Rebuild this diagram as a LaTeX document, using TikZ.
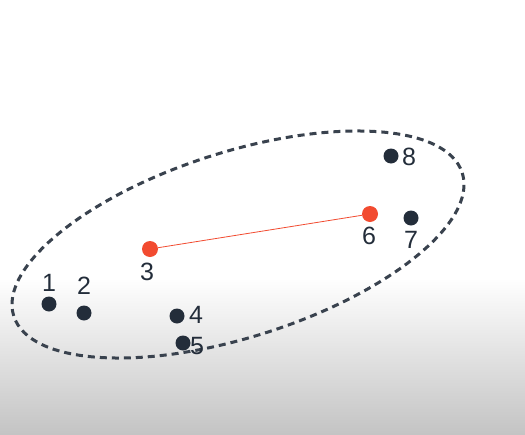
\documentclass[tikz,border=0pt]{standalone}
\usepackage{fontspec}
\setmainfont{Liberation Sans}
\definecolor{dotdark}{HTML}{232D3A}
\definecolor{dotred}{HTML}{F24B30}
\definecolor{bggray}{HTML}{C4C4C4}
\pgfdeclareverticalshading{bgsh}{100bp}{color(0bp)=(bggray); color(25bp)=(bggray); color(43bp)=(white); color(100bp)=(white)}
\begin{document}
\begin{tikzpicture}[x=1pt,y=-1pt,
  pt/.style={circle,fill=dotdark,inner sep=0pt,minimum size=15pt},
  rpt/.style={circle,fill=dotred,inner sep=0pt,minimum size=16pt},
  lbl/.style={font=\fontsize{25}{25}\selectfont,text=dotdark,inner sep=0pt}]
\useasboundingbox (0,0) rectangle (525,434);
\path[shading=bgsh] (0,0) rectangle (525,434);
% ellipse
\draw[dotdark!90,line width=3pt,dash pattern=on 7pt off 5pt] (238,244.5) ellipse[x radius=235.4,y radius=92.5,rotate=17.7];
% points
\node[pt] (p1) at (49,304) {};
\node[pt] (p2) at (84,313) {};
\node[rpt] (p3) at (150,249) {};
\node[pt] (p4) at (177,316) {};
\node[pt] (p5) at (183,343) {};
\node[rpt] (p6) at (370,214) {};
\node[pt] (p7) at (411,218) {};
\node[pt] (p8) at (391,156) {};
\draw[dotred,line width=0.8pt] (p3) -- (p6);
% labels
\node[lbl] (l1) at (49,283) {1};
\node[lbl] (l2) at (84,286) {2};
\node[lbl] (l3) at (147,272) {3};
\node[lbl] (l4) at (196,315) {4};
\node[lbl] (l5) at (197,346) {5};
\node[lbl] (l6) at (369,236) {6};
\node[lbl] (l7) at (411,240) {7};
\node[lbl] (l8) at (409,157) {8};
\end{tikzpicture}
\end{document}
